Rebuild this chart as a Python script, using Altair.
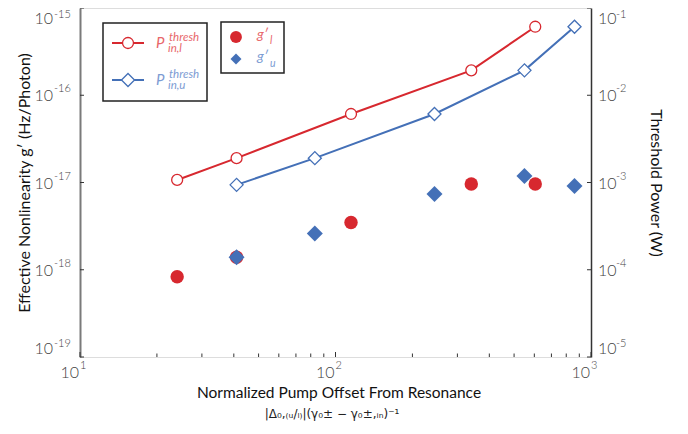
import altair as alt
import pandas as pd

# ---------------- data ----------------
x_red = [24, 41, 115, 340, 605]
p_red = [1.07e-3, 1.90e-3, 6.1e-3, 1.93e-2, 6.1e-2]
g_red = [8.3e-19, 1.39e-18, 3.48e-18, 9.6e-18, 9.6e-18]

x_blue = [41, 83, 244, 549, 862]
p_blue = [9.4e-4, 1.90e-3, 6.1e-3, 1.93e-2, 6.1e-2]
g_blue = [1.39e-18, 2.6e-18, 7.4e-18, 1.19e-17, 9.1e-18]

x_major_ticks = [10, 100, 1000]
x_minor_ticks = [20, 30, 40, 50, 60, 70, 80, 90, 200, 300, 400, 500, 600, 700, 800, 900]
x_label_exps = ["1", "2", "3"]
g_label_vals = [1e-19, 1e-18, 1e-17, 1e-16, 1e-15]
g_label_exps = ["-19", "-18", "-17", "-16", "-15"]
p_label_vals = [1e-5, 1e-4, 1e-3, 1e-2, 1e-1]
p_label_exps = ["-5", "-4", "-3", "-2", "-1"]

x_title = "Normalized Pump Offset From Resonance"
x_subtitle = ("|\u0394\u2080,\u208d\u1d64/\u2097\u208e|(\u03b3\u2080\u00b1 \u2212 "
              "\u03b3\u2080\u00b1,\u1d62\u2099)\u207b\u00b9")
y_title = "Effective Nonlinearity g\u2032 (Hz/Photon)"
y2_title = "Threshold Power (W)"

# ---------------- styling ----------------
RED = "#D7282F"
BLUE = "#4470B7"
RED_T = "#E8676B"
BLUE_T = "#7D9CD3"
FONT = "Lato"
LBL = "#444444"
W, H = 511, 349

one = pd.DataFrame({"a": [0]})


def xsc():
    return alt.Scale(type="log", domain=[10, 1000], nice=False)


def gsc():
    return alt.Scale(type="log", domain=[1e-19, 1e-15], nice=False)


def psc():
    return alt.Scale(type="log", domain=[1e-5, 1e-1], nice=False)


layers = []

# ---------------- g' (left axis) ----------------
g_df = pd.DataFrame({"x": x_red + x_blue, "g": g_red + g_blue,
                     "s": ["l"] * len(x_red) + ["u"] * len(x_blue)})
g_df = g_df.sort_values("x", kind="stable").reset_index(drop=True)

filled = alt.Chart(g_df).mark_point(filled=True, opacity=1, strokeWidth=0).encode(
    x=alt.X("x:Q", scale=xsc(), title="", axis=alt.Axis(
        orient="bottom", labels=False, ticks=False, grid=False,
        domainColor="#333333", domainWidth=1.5)),
    y=alt.Y("g:Q", scale=gsc(), title=y_title, axis=alt.Axis(
        orient="left", labels=False, ticks=False, grid=False,
        domainColor="#7a7a7a", domainWidth=2,
        titleFont=FONT, titleFontSize=16, titleFontWeight="normal", titleColor="#111111",
        titlePadding=48)),
    color=alt.Color("s:N", scale=alt.Scale(domain=["l", "u"], range=[RED, BLUE]), legend=None),
    shape=alt.Shape("s:N", scale=alt.Scale(domain=["l", "u"], range=["circle", "diamond"]), legend=None),
    size=alt.Size("s:N", scale=alt.Scale(domain=["l", "u"], range=[180, 256]), legend=None),
)
layers.append(filled)

# ---------------- threshold power (right axis) ----------------
red_df = pd.DataFrame({"x": x_red, "p": p_red})
blue_df = pd.DataFrame({"x": x_blue, "p": p_blue})

red_line = alt.Chart(red_df).mark_line(color=RED, strokeWidth=2).encode(
    x=alt.X("x:Q", scale=xsc(), axis=None),
    y=alt.Y("p:Q", scale=psc(), title=y2_title, axis=alt.Axis(
        orient="right", labels=False, ticks=False, grid=False,
        domainColor="#333333", domainWidth=1.5,
        titleFont=FONT, titleFontSize=16,
        titleFontWeight="normal", titleColor="#111111",
        titlePadding=56)))
blue_line = alt.Chart(blue_df).mark_line(color=BLUE, strokeWidth=2).encode(
    x=alt.X("x:Q", scale=xsc(), axis=None), y=alt.Y("p:Q", scale=psc(), axis=None))
red_pts = alt.Chart(red_df).mark_point(shape="circle", size=120, fill="white", filled=True,
                                       stroke=RED, strokeWidth=1.3, opacity=1).encode(
    x=alt.X("x:Q", scale=xsc(), axis=None), y=alt.Y("p:Q", scale=psc(), axis=None))
blue_pts = alt.Chart(blue_df).mark_point(shape="diamond", size=170, fill="white", filled=True,
                                         stroke=BLUE, strokeWidth=1.3, opacity=1).encode(
    x=alt.X("x:Q", scale=xsc(), axis=None), y=alt.Y("p:Q", scale=psc(), axis=None))
layers += [red_line, blue_line, red_pts, blue_pts]

# ---------------- ticks and tick labels ----------------
gt_df = pd.DataFrame({"v": g_label_vals, "e": g_label_exps})
pt_df = pd.DataFrame({"v": p_label_vals, "e": p_label_exps})
layers.append(alt.Chart(gt_df).mark_rule(color="#333333", strokeWidth=1).encode(
    x=alt.value(0), x2=alt.value(4), y=alt.Y("v:Q", scale=gsc(), axis=None)))
layers.append(alt.Chart(pt_df).mark_rule(color="#333333", strokeWidth=1).encode(
    x=alt.value(W - 4), x2=alt.value(W), y=alt.Y("v:Q", scale=psc(), axis=None)))


def ylabels(df, scale_fn, x10, xe, align10):
    out = []
    vmax = max(df["v"])
    vmin = min(df["v"])
    groups = [
        (f"datum.v >= {vmax * 0.5}", "top", 3, "top", 1),
        (f"datum.v < {vmax * 0.5} && datum.v > {vmin * 2}", "middle", 1, "middle", -6),
        (f"datum.v <= {vmin * 2}", "bottom", 0, "bottom", -8),
    ]
    for filt, b10, d10, be, de in groups:
        base = alt.Chart(df).transform_filter(filt)
        out.append(base.mark_text(text="10", align=align10, baseline=b10, dy=d10,
                                  font=FONT, fontSize=16, fontWeight=300, color=LBL).encode(
            x=alt.value(x10), y=alt.Y("v:Q", scale=scale_fn(), axis=None)))
        out.append(base.mark_text(align="left", baseline=be, dy=de,
                                  font=FONT, fontSize=11, fontWeight=300, color=LBL).encode(
            x=alt.value(xe), y=alt.Y("v:Q", scale=scale_fn(), axis=None), text="e:N"))
    return out


layers += ylabels(gt_df, gsc, -27, -26, "right")
layers += ylabels(pt_df, psc, W + 7, W + 25, "left")

xmaj_df = pd.DataFrame({"v": x_major_ticks, "e": x_label_exps})
xmin_df = pd.DataFrame({"v": x_minor_ticks})
layers.append(alt.Chart(xmaj_df).mark_rule(color="#333333", strokeWidth=1).encode(
    x=alt.X("v:Q", scale=xsc(), axis=None), y=alt.value(H), y2=alt.value(H - 5)))
layers.append(alt.Chart(xmin_df).mark_rule(color="#333333", strokeWidth=1).encode(
    x=alt.X("v:Q", scale=xsc(), axis=None), y=alt.value(H), y2=alt.value(H - 3.5)))
layers.append(alt.Chart(xmaj_df).mark_text(text="10", align="right", baseline="middle", dx=-1,
                                           font=FONT, fontSize=16, fontWeight=300, color=LBL).encode(
    x=alt.X("v:Q", scale=xsc(), axis=None), y=alt.value(H + 15.5)))
layers.append(alt.Chart(xmaj_df).mark_text(align="left", baseline="middle", dx=0,
                                           font=FONT, fontSize=11, fontWeight=300, color=LBL).encode(
    x=alt.X("v:Q", scale=xsc(), axis=None), y=alt.value(H + 9), text="e:N"))

# x-axis title (two lines)
layers.append(alt.Chart(one).mark_text(
    text=x_title, align="center", baseline="middle", font=FONT, fontSize=15.5,
    color="#111111").encode(x=alt.value(259), y=alt.value(H + 36)))
layers.append(alt.Chart(one).mark_text(
    text=x_subtitle, align="center", baseline="middle", font="DejaVu Sans", fontSize=12,
    color="#222222").encode(x=alt.value(252), y=alt.value(H + 57)))

# ---------------- legends ----------------
layers.append(alt.Chart(one).mark_rect(fill="white", stroke="#222222", strokeWidth=1.5).encode(
    x=alt.value(23), x2=alt.value(127), y=alt.value(15), y2=alt.value(93)))
layers.append(alt.Chart(one).mark_rect(fill="white", stroke="#222222", strokeWidth=1.5).encode(
    x=alt.value(141), x2=alt.value(204), y=alt.value(14), y2=alt.value(65)))
layers.append(alt.Chart(one).mark_rule(color=RED, strokeWidth=2).encode(
    x=alt.value(32), x2=alt.value(64), y=alt.value(35)))
layers.append(alt.Chart(one).mark_rule(color=BLUE, strokeWidth=2).encode(
    x=alt.value(32), x2=alt.value(64), y=alt.value(72)))
layers.append(alt.Chart(one).mark_point(shape="circle", size=120, fill="white", filled=True,
                                        stroke=RED, strokeWidth=1.3, opacity=1).encode(
    x=alt.value(48), y=alt.value(35)))
layers.append(alt.Chart(one).mark_point(shape="diamond", size=170, fill="white", filled=True,
                                        stroke=BLUE, strokeWidth=1.3, opacity=1).encode(
    x=alt.value(48), y=alt.value(72)))
layers.append(alt.Chart(one).mark_point(shape="circle", size=140, filled=True, color=RED,
                                        opacity=1, strokeWidth=0).encode(
    x=alt.value(156), y=alt.value(29)))
layers.append(alt.Chart(one).mark_point(shape="diamond", size=120, filled=True, color=BLUE,
                                        opacity=1, strokeWidth=0).encode(
    x=alt.value(156), y=alt.value(51)))


def ltext(txt, x, y, size, color):
    return alt.Chart(one).mark_text(text=txt, align="left", baseline="alphabetic", font=FONT,
                                    fontStyle="italic", fontSize=size, color=color).encode(
        x=alt.value(x), y=alt.value(y))


layers += [
    ltext("P", 76, 40, 15, RED_T), ltext("thresh", 89, 33, 11.5, RED_T), ltext("in,l", 88, 44, 11.5, RED_T),
    ltext("P", 76, 77, 15, BLUE_T), ltext("thresh", 89, 70, 11.5, BLUE_T), ltext("in,u", 88, 81, 11.5, BLUE_T),
    ltext("g\u2032", 177, 31, 14, RED_T), ltext("l", 190, 36, 10.5, RED_T),
    ltext("g\u2032", 177, 53, 14, BLUE_T), ltext("u", 190, 59, 10.5, BLUE_T),
]

chart = alt.layer(*layers).resolve_scale(y="independent").properties(
    width=W, height=H,
    padding={"left": 72, "top": 0, "right": 89, "bottom": 69},
    autosize=alt.AutoSizeParams(type="none"),
).configure_view(stroke="#222222", strokeWidth=1.5).configure(background="white")

chart.save("out.html", embed_options={"renderer": "svg", "actions": False})
